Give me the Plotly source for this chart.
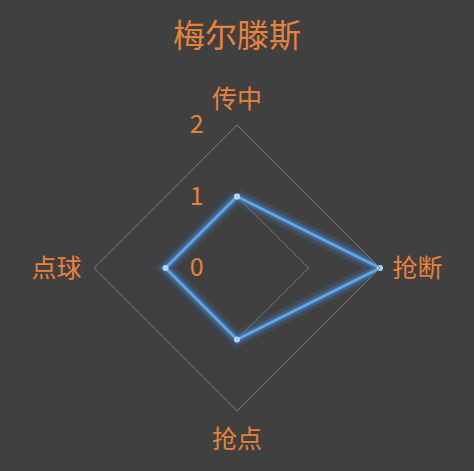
import plotly.graph_objects as go

categories = ['传中', '抢断', '抢点', '点球']
values = [1, 2, 1, 1]
radial_ticks = [0, 1, 2]
title_text = '梅尔滕斯'

orange = '#e8823a'
grid = '#7a7a7a'
bg = '#404040'

theta = categories + categories[:1]
r = values + values[:1]

fig = go.Figure()

# glow under the line
fig.add_trace(go.Scatterpolar(r=r, theta=theta, mode='lines',
                              line=dict(color='rgba(70,145,230,0.14)', width=15),
                              hoverinfo='skip', showlegend=False))
fig.add_trace(go.Scatterpolar(r=r, theta=theta, mode='lines',
                              line=dict(color='rgba(70,145,230,0.35)', width=8),
                              hoverinfo='skip', showlegend=False))
fig.add_trace(go.Scatterpolar(r=r, theta=theta, mode='lines+markers',
                              line=dict(color='#5ea6ec', width=3),
                              marker=dict(color='#b0d6f7', size=6),
                              showlegend=False))

fig.update_layout(
    width=474, height=471,
    paper_bgcolor=bg, plot_bgcolor=bg,
    margin=dict(l=0, r=0, t=0, b=0),
    font=dict(family='Noto Sans CJK SC', color=orange, size=25),
    title=dict(text=title_text, x=0.5, xanchor='center', y=0.925, yanchor='middle',
               font=dict(size=32, color=orange)),
    polar=dict(
        bgcolor=bg,
        domain=dict(x=[0.198, 0.802], y=[0.1274, 0.7346]),
        gridshape='linear',
        radialaxis=dict(range=[0, 2], tickvals=radial_ticks, angle=90,
                        tickangle=90, side='counterclockwise',
                        showline=False, showgrid=True, gridcolor=grid, gridwidth=1,
                        ticks='outside', ticklen=24, tickcolor='rgba(0,0,0,0)',
                        tickfont=dict(size=25, color=orange)),
        angularaxis=dict(rotation=90, direction='clockwise',
                         showgrid=False, showline=True, linecolor=grid, linewidth=1,
                         ticks='outside', ticklen=7, tickcolor='rgba(0,0,0,0)',
                         tickfont=dict(size=25, color=orange)),
    ),
)

fig.write_html('out.html', config={'displayModeBar': False},
               post_script="document.body.style.margin='0';")
